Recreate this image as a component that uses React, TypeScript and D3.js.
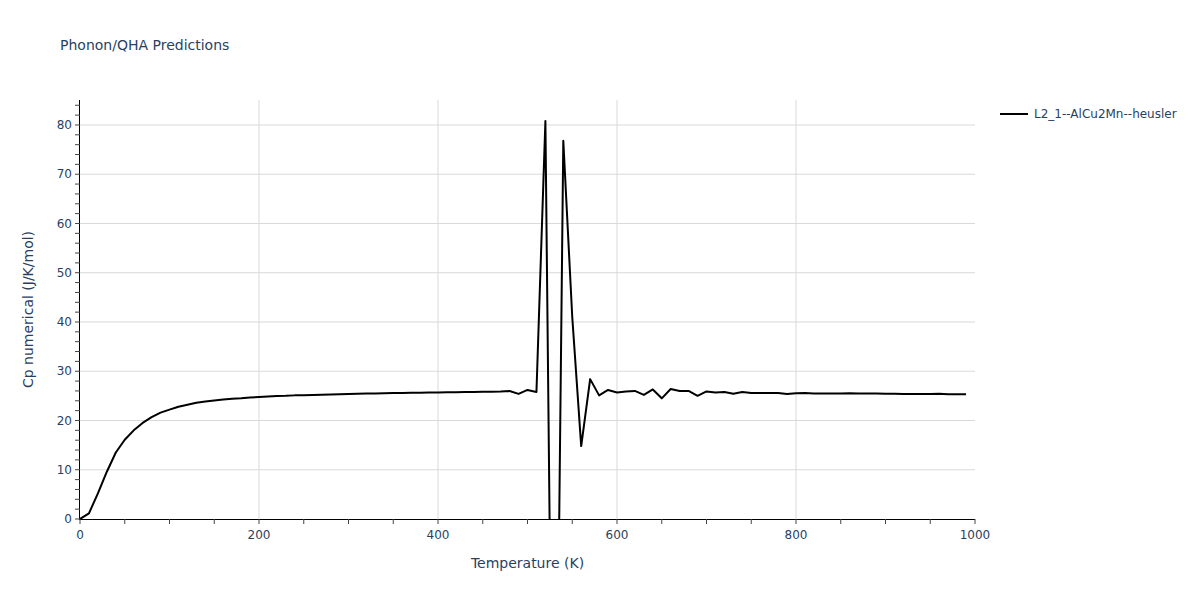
import React from "react";
import * as d3 from "d3";

const temperatures = [
  0, 10, 20, 30, 40, 50, 60, 70, 80, 90,
  100, 110, 120, 130, 140, 150, 160, 170, 180, 190,
  200, 210, 220, 230, 240, 250, 260, 270, 280, 290,
  300, 310, 320, 330, 340, 350, 360, 370, 380, 390,
  400, 410, 420, 430, 440, 450, 460, 470, 480, 490,
  500, 510, 520, 530, 540, 550, 560, 570, 580, 590,
  600, 610, 620, 630, 640, 650, 660, 670, 680, 690,
  700, 710, 720, 730, 740, 750, 760, 770, 780, 790,
  800, 810, 820, 830, 840, 850, 860, 870, 880, 890,
  900, 910, 920, 930, 940, 950, 960, 970, 980, 990,
];

const cpValues = [
  0, 1.15, 5.2, 9.6, 13.5, 16.1, 18.0, 19.5, 20.7, 21.6,
  22.2, 22.8, 23.2, 23.6, 23.85, 24.05, 24.25, 24.4, 24.5, 24.65,
  24.75, 24.85, 24.95, 25.0, 25.1, 25.15, 25.2, 25.25, 25.3, 25.35,
  25.4, 25.45, 25.48, 25.5, 25.53, 25.56, 25.6, 25.62, 25.65, 25.68,
  25.7, 25.72, 25.75, 25.78, 25.8, 25.83, 25.85, 25.88, 26.0, 25.4,
  26.2, 25.8, 80.8, -92, 76.8, 41, 14.8, 28.4, 25.1, 26.2,
  25.7, 25.9, 26.0, 25.2, 26.3, 24.5, 26.4, 26.0, 26.0, 25.0,
  25.9, 25.7, 25.8, 25.45, 25.8, 25.6, 25.6, 25.6, 25.6, 25.4,
  25.55, 25.6, 25.5, 25.5, 25.5, 25.5, 25.55, 25.5, 25.5, 25.5,
  25.45, 25.45, 25.4, 25.4, 25.4, 25.4, 25.45, 25.35, 25.35, 25.35,
];

const xTicks = [0, 200, 400, 600, 800, 1000];
const xMinorTicks = [0, 50, 100, 150, 200, 250, 300, 350, 400, 450, 500, 550, 600, 650, 700, 750, 800, 850, 900, 950, 1000];
const yTicks = [0, 10, 20, 30, 40, 50, 60, 70, 80];
const yMinorTicks = [0, 2, 4, 6, 8, 10, 12, 14, 16, 18, 20, 22, 24, 26, 28, 30, 32, 34, 36, 38, 40, 42, 44, 46, 48, 50, 52, 54, 56, 58, 60, 62, 64, 66, 68, 70, 72, 74, 76, 78, 80, 82, 84];

const seriesName = "L2_1--AlCu2Mn--heusler";
const title = "Phonon/QHA Predictions";
const xTitle = "Temperature (K)";
const yTitle = "Cp numerical (J/K/mol)";

const W = 1200;
const H = 600;
const left = 80;
const right = 975;
const top = 100;
const bottom = 519;
const font = "'DejaVu Sans', Verdana, sans-serif";
const textColor = "#2a3f5f";

export default function App() {
  const x = d3.scaleLinear().domain([0, 1000]).range([left, right]);
  const y = d3.scaleLinear().domain([0, 85.07]).range([bottom, top]);
  const data = temperatures.map((t, i) => [t, cpValues[i]] as [number, number]);
  const line = d3
    .line<[number, number]>()
    .x((d) => x(d[0]))
    .y((d) => y(d[1]));

  return (
    <svg
      width={W}
      height={H}
      style={{ position: "absolute", left: 0, top: 0, background: "#fff" }}
      fontFamily={font}
    >
      <defs>
        <clipPath id="plotclip">
          <rect x={left} y={top} width={right - left} height={bottom - top} />
        </clipPath>
      </defs>
      <rect x={0} y={0} width={W} height={H} fill="#fff" />
      {/* grid */}
      {yTicks.filter((t) => t > 0).map((t) => (
        <line key={"gy" + t} x1={left} x2={right} y1={y(t)} y2={y(t)} stroke="#d9d9d9" strokeWidth={1} />
      ))}
      {xTicks.filter((t) => t > 0 && t < 1000).map((t) => (
        <line key={"gx" + t} x1={x(t)} x2={x(t)} y1={top} y2={bottom} stroke="#d9d9d9" strokeWidth={1} />
      ))}
      {/* series */}
      <path
        d={line(data) || ""}
        fill="none"
        stroke="#000"
        strokeWidth={2}
        strokeLinejoin="round"
        clipPath="url(#plotclip)"
      />
      {/* axes lines */}
      <line x1={left - 0.5} x2={left - 0.5} y1={top} y2={bottom + 1} stroke="#000" strokeWidth={1} />
      <line x1={left - 1} x2={right} y1={bottom + 0.5} y2={bottom + 0.5} stroke="#000" strokeWidth={1} />
      {/* y ticks */}
      {yMinorTicks.map((t) => (
        <line key={"ym" + t} x1={left - 5} x2={left} y1={y(t)} y2={y(t)} stroke="#444" strokeWidth={1} />
      ))}
      {yTicks.map((t) => (
        <text key={"yl" + t} x={left - 8} y={y(t)} dy="0.35em" textAnchor="end" fontSize={12} fill={textColor}>
          {t}
        </text>
      ))}
      {/* x ticks */}
      {xMinorTicks.map((t) => (
        <line key={"xm" + t} x1={x(t)} x2={x(t)} y1={bottom} y2={bottom + 5} stroke="#444" strokeWidth={1} />
      ))}
      {xTicks.map((t) => (
        <text key={"xl" + t} x={x(t)} y={bottom + 20} textAnchor="middle" fontSize={12} fill={textColor}>
          {t}
        </text>
      ))}
      {/* titles */}
      <text x={60} y={50} fontSize={14} fill={textColor}>
        {title}
      </text>
      <text x={(left + right) / 2} y={568} textAnchor="middle" fontSize={14} fill={textColor}>
        {xTitle}
      </text>
      <text
        transform={`translate(33, ${(top + bottom) / 2}) rotate(-90)`}
        textAnchor="middle"
        fontSize={14}
        fill={textColor}
      >
        {yTitle}
      </text>
      {/* legend */}
      <line x1={1000} x2={1028} y1={114} y2={114} stroke="#000" strokeWidth={2} />
      <text x={1034} y={114} dy="0.35em" fontSize={12} fill={textColor}>
        {seriesName}
      </text>
    </svg>
  );
}
